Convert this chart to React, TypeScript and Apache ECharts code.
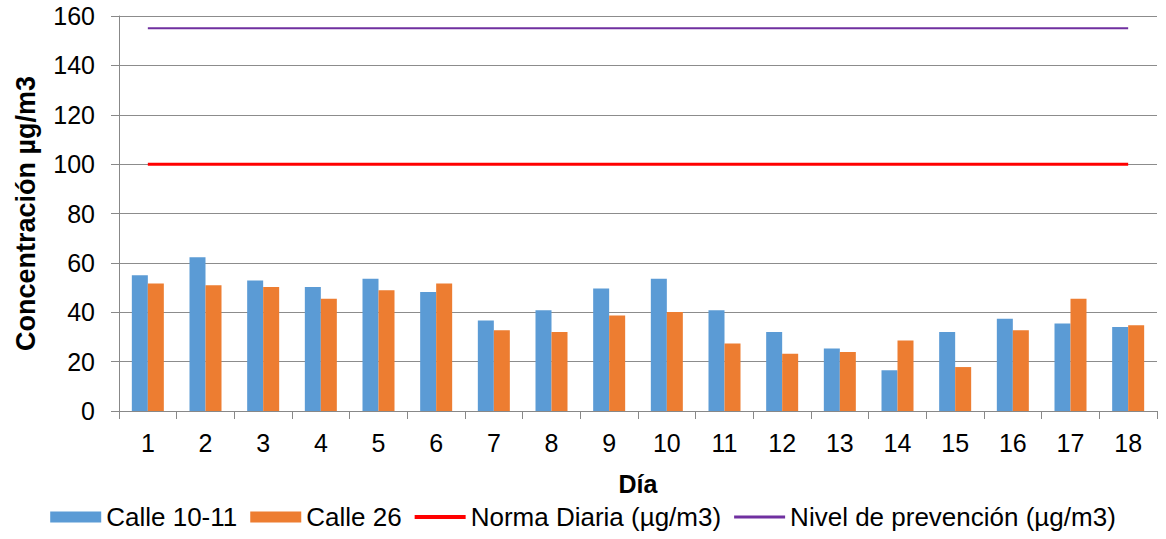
import React, { useEffect, useRef } from "react";
import * as echarts from "echarts";

const days = ["1","2","3","4","5","6","7","8","9","10","11","12","13","14","15","16","17","18"];
const calle1011 = [55, 62.3, 52.9, 50.2, 53.6, 48.2, 36.7, 40.8, 49.6, 53.6, 40.8, 32.0, 25.3, 16.5, 32.0, 37.4, 35.4, 34.0];
const calle26 = [51.6, 50.9, 50.2, 45.5, 48.9, 51.6, 32.7, 32.0, 38.7, 40.1, 27.3, 23.2, 23.9, 28.6, 17.8, 32.7, 45.5, 34.7];
const normaDiaria = days.map(() => 100);
const nivelPrevencion = days.map(() => 155);

const FONT = "'Liberation Sans', Arial, sans-serif";

export default function App() {
  const ref = useRef<HTMLDivElement>(null);
  useEffect(() => {
    document.body.style.margin = "0";
    const chart = echarts.init(ref.current!, null, { renderer: "svg" });
    chart.setOption({
      animation: false,
      textStyle: { fontFamily: FONT, color: "#000" },
      grid: { left: 119, right: 9, top: 16, bottom: 128, containLabel: false },
      legend: {
        bottom: 4,
        left: "center",
        itemGap: 13,
        itemWidth: 51,
        itemHeight: 11,
        textStyle: { fontFamily: FONT, fontSize: 26, color: "#000", padding: [0, 0, 0, 0] },
        data: [
          { name: "Calle 10-11", icon: "rect" },
          { name: "Calle 26", icon: "rect" },
          { name: "Norma Diaria (µg/m3)", icon: "path://M0,0H51V4H0Z", itemStyle: { color: "#ff0000", borderWidth: 0 } },
          { name: "Nivel de prevención (µg/m3)", icon: "path://M0,0H51V3H0Z", itemStyle: { color: "#7030a0", borderWidth: 0 } },
        ],
      },
      xAxis: {
        type: "category",
        data: days,
        name: "Día",
        nameLocation: "middle",
        nameGap: 60,
        nameTextStyle: { fontFamily: FONT, fontSize: 25, fontWeight: "bold", color: "#000" },
        axisLine: { lineStyle: { color: "#888", width: 1 } },
        axisTick: { show: true, length: 8, alignWithLabel: false, lineStyle: { color: "#888" } },
        axisLabel: { fontFamily: FONT, fontSize: 25, color: "#000", margin: 19 },
      },
      yAxis: {
        type: "value",
        min: 0,
        max: 160,
        interval: 20,
        name: "Concentración µg/m3",
        nameLocation: "middle",
        nameGap: 80,
        nameTextStyle: { fontFamily: FONT, fontSize: 27, fontWeight: "bold", color: "#000" },
        axisLine: { show: true, lineStyle: { color: "#888", width: 1 } },
        axisTick: { show: true, length: 8, inside: false, lineStyle: { color: "#888" } },
        axisLabel: { fontFamily: FONT, fontSize: 25, color: "#000", margin: 24 },
        splitLine: { show: true, lineStyle: { color: "#8c8c8c", width: 1 } },
      },
      series: [
        {
          name: "Calle 10-11",
          type: "bar",
          data: calle1011,
          barWidth: 16,
          barGap: "0%",
          itemStyle: { color: "#5b9bd5" },
        },
        {
          name: "Calle 26",
          type: "bar",
          data: calle26,
          barWidth: 16,
          barGap: "0%",
          itemStyle: { color: "#ed7d31" },
        },
        {
          name: "Norma Diaria (µg/m3)",
          type: "line",
          data: normaDiaria,
          symbol: "none",
          lineStyle: { color: "#ff0000", width: 3 },
          itemStyle: { color: "#ff0000" },
        },
        {
          name: "Nivel de prevención (µg/m3)",
          type: "line",
          data: nivelPrevencion,
          symbol: "none",
          lineStyle: { color: "#7030a0", width: 2 },
          itemStyle: { color: "#7030a0" },
        },
      ],
    });
    return () => chart.dispose();
  }, []);
  return <div ref={ref} style={{ width: 1166, height: 539 }} />;
}
